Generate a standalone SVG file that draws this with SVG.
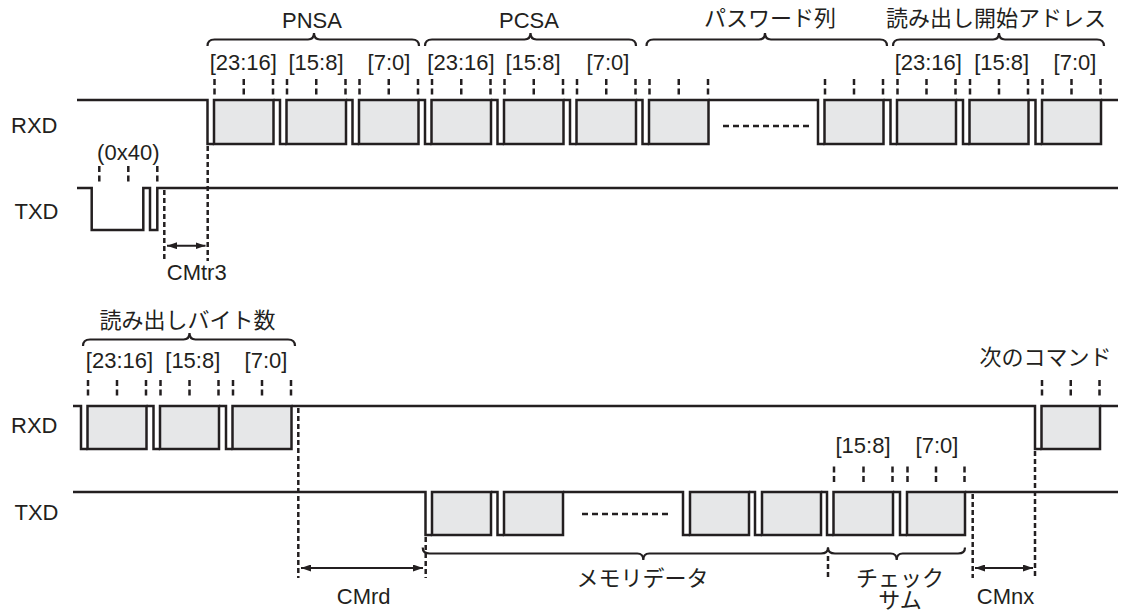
<svg xmlns="http://www.w3.org/2000/svg" width="1126" height="612" viewBox="0 0 1126 612">
<defs>
<style>
.w{fill:none;stroke:#231f20;stroke-width:2.5;stroke-linejoin:miter;stroke-linecap:butt}
.bx{fill:#e6e7e8;stroke:#231f20;stroke-width:2.5}
.tk{fill:none;stroke:#231f20;stroke-width:2.5;stroke-dasharray:6 3.5}
.dl{fill:none;stroke:#231f20;stroke-width:2.5;stroke-dasharray:5 3}
.dot{fill:none;stroke:#231f20;stroke-width:2.5;stroke-dasharray:6 4}
.br{fill:none;stroke:#231f20;stroke-width:2.2}
.ar{fill:none;stroke:#231f20;stroke-width:2}
text{fill:#231f20;font-family:"Liberation Sans",Arial,sans-serif;font-size:22px}
.jp{font-family:"Noto Sans CJK JP","Noto Sans CJK SC",sans-serif;font-size:22px}
.m{text-anchor:middle}
</style>
<marker id="ah" viewBox="0 0 10 7" refX="10" refY="3.5" markerWidth="10" markerHeight="7" markerUnits="userSpaceOnUse" orient="auto-start-reverse">
<path d="M0,0 L10,3.5 L0,7 z" fill="#231f20"/>
</marker>
</defs>

<g id="rxd-top">
<text x="11" y="133">RXD</text>
<path class="w" d="M77,100 H207.5 V144 H214 M273.5,100 H280 V144 H286.5 M346,100 H352.5 V144 H359 M418.5,100 H425 V144 H431.5 M491,100 H497.5 V144 H504 M563.5,100 H570 V144 H576.5 M636,100 H642.5 V144 H649 M708.5,100 H818 V144 H824.5 M883.5,100 H890.5 V144 H897 M956,100 H963 V144 H969.5 M1028.5,100 H1035.5 V144 H1042 M1101,100 H1118"/>
<rect class="bx" x="214" y="100" width="59.5" height="44"/>
<rect class="bx" x="286.5" y="100" width="59.5" height="44"/>
<rect class="bx" x="359" y="100" width="59.5" height="44"/>
<rect class="bx" x="431.5" y="100" width="59.5" height="44"/>
<rect class="bx" x="504" y="100" width="59.5" height="44"/>
<rect class="bx" x="576.5" y="100" width="59.5" height="44"/>
<rect class="bx" x="649" y="100" width="59.5" height="44"/>
<rect class="bx" x="824.5" y="100" width="59" height="44"/>
<rect class="bx" x="897" y="100" width="59" height="44"/>
<rect class="bx" x="969.5" y="100" width="59" height="44"/>
<rect class="bx" x="1042" y="100" width="59" height="44"/>
<path class="dot" d="M723,126 H811"/>
<path class="tk" d="M214.5,79 V94.5 M243.75,79 V94.5 M273,79 V94.5 M287,79 V94.5 M316.25,79 V94.5 M345.5,79 V94.5 M359.5,79 V94.5 M388.75,79 V94.5 M418,79 V94.5 M432,79 V94.5 M461.25,79 V94.5 M490.5,79 V94.5 M504.5,79 V94.5 M533.75,79 V94.5 M563,79 V94.5 M577,79 V94.5 M606.25,79 V94.5 M635.5,79 V94.5 M649.5,79 V94.5 M678.75,79 V94.5 M708,79 V94.5 M825,79 V94.5 M854,79 V94.5 M883,79 V94.5 M897.5,79 V94.5 M926.5,79 V94.5 M955.5,79 V94.5 M970,79 V94.5 M999,79 V94.5 M1028,79 V94.5 M1042.5,79 V94.5 M1071.5,79 V94.5 M1100.5,79 V94.5"/>
</g>

<g id="txd-top">
<text x="14.5" y="219">TXD</text>
<path class="w" d="M77,188 H91.7 V230 H143.3 V188 H150 V230 H157.3 V188 H1118"/>
<path class="tk" d="M99.3,166 V181.5 M128.3,166 V181.5 M157.3,166 V181.5"/>
<text class="m" x="128.3" y="160">(0x40)</text>
</g>

<g id="braces-top">
<path class="br" d="M207.5,46 C207.5,41.5 209.5,39.5 214.5,39.5 H308 C312,39.5 314,37 314,33 C314,37 316,39.5 320,39.5 H412 C417,39.5 419,41.5 419,46"/>
<text class="m" x="312" y="28">PNSA</text>
<path class="br" d="M425,46 C425,41.5 427,39.5 432,39.5 H524.5 C528.5,39.5 530.5,37 530.5,33 C530.5,37 532.5,39.5 536.5,39.5 H629 C634,39.5 636,41.5 636,46"/>
<text class="m" x="529" y="28">PCSA</text>
<path class="br" d="M646.5,46 C646.5,41.5 648.5,39.5 653.5,39.5 H759 C763,39.5 765,37 765,33 C765,37 767,39.5 771,39.5 H880 C885,39.5 887,41.5 887,46"/>
<text class="jp m" x="770" y="26">パスワード列</text>
<path class="br" d="M893,46 C893,41.5 895,39.5 900,39.5 H993 C997,39.5 999,37 999,33 C999,37 1001,39.5 1005,39.5 H1097 C1102,39.5 1104,41.5 1104,46"/>
<text class="jp m" x="996" y="26">読み出し開始アドレス</text>
<text class="m" x="243.3" y="69.5">[23:16]</text>
<text class="m" x="316" y="69.5">[15:8]</text>
<text class="m" x="389" y="69.5">[7:0]</text>
<text class="m" x="461" y="69.5">[23:16]</text>
<text class="m" x="533" y="69.5">[15:8]</text>
<text class="m" x="608" y="69.5">[7:0]</text>
<text class="m" x="928.3" y="69.5">[23:16]</text>
<text class="m" x="1001.7" y="69.5">[15:8]</text>
<text class="m" x="1075" y="69.5">[7:0]</text>
</g>

<g id="rxd-bottom">
<text x="11" y="433">RXD</text>
<path class="w" d="M73,406 H81 V449 H87.5 M146.5,406 H153.5 V449 H160 M219,406 H226 V449 H232.5 M291.5,406 H1035 V449 H1041.5 M1100,406 H1118"/>
<rect class="bx" x="87.5" y="406" width="59" height="43"/>
<rect class="bx" x="160" y="406" width="59" height="43"/>
<rect class="bx" x="232.5" y="406" width="59" height="43"/>
<rect class="bx" x="1041.5" y="406" width="58.5" height="43"/>
<path class="tk" d="M88,380 V395.5 M117,380 V395.5 M146,380 V395.5 M160.5,380 V395.5 M189.5,380 V395.5 M218.5,380 V395.5 M233,380 V395.5 M262,380 V395.5 M291,380 V395.5 M1042,380 V395.5 M1070.75,380 V395.5 M1099.5,380 V395.5"/>
<path class="br" d="M83,346 C83,341.5 85,339.5 90,339.5 H183.5 C187.5,339.5 189.5,337 189.5,333 C189.5,337 191.5,339.5 195.5,339.5 H288 C293,339.5 295,341.5 295,346"/>
<text class="jp m" x="187.5" y="328">読み出しバイト数</text>
<text class="m" x="119.5" y="368">[23:16]</text>
<text class="m" x="192.8" y="368">[15:8]</text>
<text class="m" x="266" y="368">[7:0]</text>
<text class="jp m" x="1045.5" y="365">次のコマンド</text>
</g>

<g id="txd-bottom">
<text x="14.5" y="520">TXD</text>
<path class="w" d="M73,492 H425.5 V535 H432 M491,492 H497.5 V535 H504 M563,492 H683 V535 H690 M749,492 H755 V535 H762 M821,492 H827 V535 H833.5 M893,492 H900 V535 H907 M965,492 H1118"/>
<rect class="bx" x="432" y="492" width="59" height="43"/>
<rect class="bx" x="504" y="492" width="59" height="43"/>
<rect class="bx" x="690" y="492" width="59" height="43"/>
<rect class="bx" x="762" y="492" width="59" height="43"/>
<rect class="bx" x="833.5" y="492" width="59.5" height="43"/>
<rect class="bx" x="907" y="492" width="58" height="43"/>
<path class="dot" d="M582,514 H670"/>
<path class="tk" d="M834,466.5 V482 M863.5,466.5 V482 M892.5,466.5 V482 M907.5,466.5 V482 M936,466.5 V482 M964.5,466.5 V482"/>
<text class="m" x="863" y="453">[15:8]</text>
<text class="m" x="937" y="453">[7:0]</text>
<path class="br" d="M422.7,547.5 C422.7,551.5 424.7,553.5 429.7,553.5 H637.3 C641.3,553.5 643.3,556 643.3,560 C643.3,556 645.3,553.5 649.3,553.5 H821 C826,553.5 828,551.5 828,547.5"/>
<text class="jp m" x="642.5" y="586">メモリデータ</text>
<path class="br" d="M828,547.5 C828,551.5 830,553.5 835,553.5 H890.7 C894.7,553.5 896.7,556 896.7,560 C896.7,556 898.7,553.5 902.7,553.5 H958 C963,553.5 965,551.5 965,547.5"/>
<text class="jp m" x="900" y="586">チェック</text>
<text class="jp m" x="900" y="608">サム</text>
</g>

<g id="connectors">
<path class="dl" d="M207.7,146 V261 M164.3,190 V262 M298.3,408 V578 M425.7,537 V578 M828,556 V579 M972.7,494 V578 M1035,451 V578"/>
<path class="ar" d="M167,245.7 H205.5" marker-start="url(#ah)" marker-end="url(#ah)"/>
<path class="ar" d="M301,568 H423" marker-start="url(#ah)" marker-end="url(#ah)"/>
<path class="ar" d="M975,568 H1033" marker-start="url(#ah)" marker-end="url(#ah)"/>
<text class="m" x="196.7" y="280">CMtr3</text>
<text class="m" x="363.7" y="604">CMrd</text>
<text class="m" x="1005.5" y="604">CMnx</text>
</g>
</svg>
